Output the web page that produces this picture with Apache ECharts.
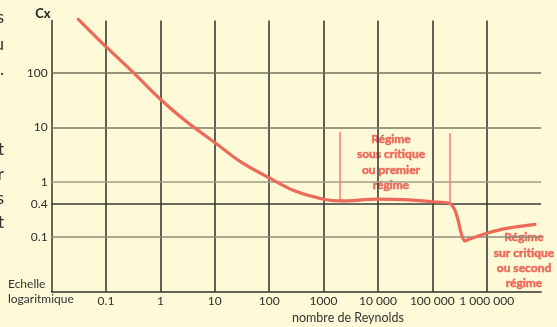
<!DOCTYPE html>
<html>
<head>
<meta charset="utf-8">
<script src="https://cdn.jsdelivr.net/npm/echarts@6/dist/echarts.min.js"></script>
<style>
html,body{margin:0;padding:0;background:#fef9d6;}
#chart{width:557px;height:327px;}
</style>
</head>
<body>
<div id="chart"></div>
<script>
// Data
var reynolds = [0.031, 0.1, 0.32, 1, 3, 10, 30, 100, 300, 1000, 2000, 10000, 44000, 100000, 210000, 260000, 300000, 350000, 400000, 490000, 1000000, 2330000, 7700000];
var cx = [944, 298, 100, 32.7, 12.8, 5.3, 2.35, 1.2, 0.69, 0.49, 0.455, 0.49, 0.47, 0.44, 0.41, 0.31, 0.196, 0.105, 0.085, 0.092, 0.117, 0.144, 0.17];
var xTickValues = [0.1, 1, 10, 100, 1000, 10000, 100000, 1000000];
var xTickLabels = ['0.1', '1', '10', '100', '1000', '10 000', '100 000', '1 000 000'];
var yRefValues = [100, 10, 1, 0.4, 0.1];
var yRefLabels = ['100', '10', '1', '0.4', '0.1'];
var yRefColors = ['#74725e', '#7c7a66', '#a29e88', '#3a3a35', '#8e8b78'];
var regimeBounds = [[2000, 0.455, 8.3], [205000, 0.41, 7.8]];
var regime1 = ['Régime', 'sous critique', 'ou premier', 'régime'];
var regime2 = ['Régime', 'sur critique', 'ou second', 'régime'];
var edgeLetters = [['s', 18], ['u', 45], ['.', 70], ['t', 150], ['r', 175], ['s', 199], ['t', 223]];

var red = '#ec6a5b';
var font = 'Lato, "Open Sans", sans-serif';

var chart = echarts.init(document.getElementById('chart'), null, {renderer: 'canvas'});

var seriesData = reynolds.map(function (r, i) { return [r, cx[i]]; });

var hLines = yRefValues.map(function (v, i) {
  return {
    yAxis: v,
    lineStyle: {color: yRefColors[i], width: 1.5, type: 'solid'},
    label: {show: true, position: 'start', distance: 4, formatter: yRefLabels[i], color: '#2e2e2a', fontSize: 12, fontFamily: font}
  };
});

var vMarkers = regimeBounds.map(function (b) {
  return [{coord: [b[0], b[1]]}, {coord: [b[0], b[2]]}];
});

var graphics = [
  {type: 'text', left: 8, top: 276, style: {text: 'Echelle\nlogaritmique', font: '12px ' + font, fill: '#333', lineHeight: 15.5}},
  {type: 'text', x: 348, y: 318, style: {text: 'nombre de Reynolds', font: '12.5px ' + font, fill: '#333', textAlign: 'center', textVerticalAlign: 'middle'}},
  {type: 'text', x: 391, y: 131, style: {text: regime1.join('\n'), font: 'bold 12px ' + font, fill: red, stroke: red, lineWidth: 0.5, textAlign: 'center', lineHeight: 15.6}},
  {type: 'text', x: 524, y: 230, style: {text: regime2.join('\n'), font: 'bold 12px ' + font, fill: red, stroke: red, lineWidth: 0.5, textAlign: 'center', lineHeight: 15.2}}
];
edgeLetters.forEach(function (e) {
  graphics.push({type: 'text', x: 4, y: e[1], style: {text: e[0], font: '17px ' + font, fill: '#333', textAlign: 'right', textVerticalAlign: 'middle'}});
});

var option = {
  backgroundColor: '#fef9d6',
  animation: false,
  grid: {left: 51.6, right: 15.9, top: 20.4, bottom: 35.2, containLabel: false},
  xAxis: {
    type: 'log', logBase: 10, min: 0.01, max: 10000000, interval: 1,
    axisLine: {show: true, onZero: false, lineStyle: {color: '#333', width: 1.5}},
    axisTick: {show: false},
    splitLine: {show: true, showMinLine: false, showMaxLine: false, lineStyle: {color: '#3a3a35', width: 1.6}},
    axisLabel: {
      show: true, margin: 3, color: '#2e2e2a', fontSize: 12, fontFamily: font,
      showMinLabel: false, showMaxLabel: false,
      formatter: function (v) {
        for (var i = 0; i < xTickValues.length; i++) {
          if (Math.abs(Math.log10(v) - Math.log10(xTickValues[i])) < 1e-6) return xTickLabels[i];
        }
        return '';
      }
    }
  },
  yAxis: {
    type: 'log', logBase: 10, min: 0.01, max: 900,
    name: 'Cx', nameLocation: 'end', nameGap: 0,
    nameTextStyle: {fontWeight: 'bold', fontSize: 13, color: '#222', align: 'right', fontFamily: font, padding: [0, 1, 0, 0]},
    axisLine: {show: true, onZero: false, lineStyle: {color: '#333', width: 1.5}},
    axisTick: {show: false},
    axisLabel: {show: false},
    splitLine: {show: false}
  },
  series: [
    {
      type: 'line', data: [], symbol: 'none', silent: true,
      markLine: {silent: true, symbol: ['none', 'none'], animation: false, data: hLines}
    },
    {
      type: 'line', data: seriesData, smooth: 0.3, symbol: 'none', clip: false,
      lineStyle: {color: red, width: 3.2, cap: 'round'},
      z: 5,
      markLine: {
        silent: true, symbol: ['none', 'none'], animation: false,
        label: {show: false},
        lineStyle: {color: '#f07a6b', width: 1.5, type: 'solid'},
        data: vMarkers
      }
    }
  ],
  graphic: graphics
};
chart.setOption(option);
</script>
</body>
</html>
